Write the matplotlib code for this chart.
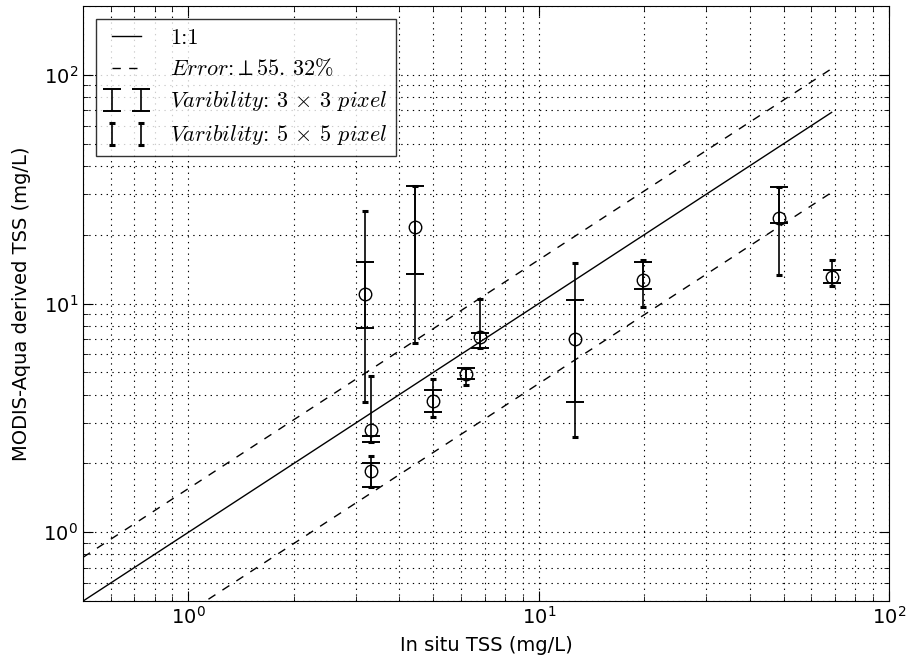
import numpy as np
import matplotlib
matplotlib.use("Agg")
import matplotlib.pyplot as plt
from matplotlib.font_manager import FontProperties

# in situ vs MODIS-Aqua TSS (mg/L), one entry per station
insitu = [3.2, 3.31, 3.31, 4.42, 5.0, 6.21, 6.81, 12.7, 19.8, 48.6, 68.5]
modis = [11.0, 2.8, 1.85, 21.5, 3.76, 4.91, 7.13, 7.02, 12.7, 23.7, 13.1]

# spread of the 3x3 pixel window (min / max)
lo_3x3 = [7.8, 2.47, 1.58, 13.5, 3.37, 4.66, 6.4, 3.7, 11.6, 22.5, 12.3]
hi_3x3 = [15.2, 2.64, 2.01, 32.6, 4.19, 5.2, 7.4, 10.4, 15.2, 32.4, 14.0]

# spread of the 5x5 pixel window (min / max)
lo_5x5 = [3.7, 2.47, 1.58, 6.7, 3.2, 4.4, 6.4, 2.6, 9.7, 13.3, 11.9]
hi_5x5 = [25.4, 4.8, 2.16, 32.6, 4.67, 5.2, 10.5, 15.1, 15.5, 32.4, 15.5]

err_pct = 55.32

x = np.array(insitu)
y = np.array(modis)

fig = plt.figure(figsize=(9.12, 6.62), dpi=100)
ax = fig.add_axes([0.091, 0.092, 0.884, 0.899])
ax.set_xscale("log")
ax.set_yscale("log")

# 1:1 and error envelope
xl = np.array([0.5, x.max()])
dash = (0, (6, 6))
ax.plot(xl, xl, "k-", lw=1.0, label="1:1")
ax.plot(xl, xl * (1 + err_pct / 100), color="k", lw=1.0, ls=dash,
        label=r"$Error$:$\perp55.\,32\%$")
ax.plot(xl, xl * (1 - err_pct / 100), color="k", lw=1.0, ls=dash)

lo3, hi3 = np.array(lo_3x3), np.array(hi_3x3)
lo5, hi5 = np.array(lo_5x5), np.array(hi_5x5)
ax.errorbar(x, lo3, yerr=[np.zeros_like(lo3), hi3 - lo3], fmt="none",
            ecolor="k", elinewidth=1.2, capsize=6.5, capthick=1.4,
            label=r"$Varibility$: 3 $\times$ 3 $pixel$")
ax.errorbar(x, lo5, yerr=[np.zeros_like(lo5), hi5 - lo5], fmt="none",
            ecolor="k", elinewidth=1.2, capsize=2.2, capthick=2.2,
            label=r"$Varibility$: 5 $\times$ 5 $pixel$")

ax.plot(x, y, "o", ms=9, mfc="none", mec="k", mew=1.0)

ax.set_xlim(0.5, 100)
ax.set_ylim(0.5, 200)
ax.grid(True, which="both", color="k", ls=(0, (1.2, 4.0)), lw=0.8)
ax.tick_params(which="both", direction="in", top=True, right=True,
               labelsize=14)
ax.tick_params(which="major", length=7)
ax.tick_params(which="minor", length=3.5)

ax.set_xlabel("In situ TSS (mg/L)", fontsize=14, labelpad=6)
ax.set_ylabel("MODIS-Aqua derived TSS (mg/L)", fontsize=14, labelpad=9)

leg = ax.legend(loc="upper left", numpoints=2, fancybox=False,
                prop=FontProperties(family="cmr10", size=16,
                                    math_fontfamily="cm"),
                handlelength=1.9, handletextpad=1.0, borderaxespad=0.6,
                labelspacing=0.45)
leg.get_frame().set_edgecolor("k")
leg.get_frame().set_linewidth(1.0)

fig.savefig("out.png", dpi=100)
